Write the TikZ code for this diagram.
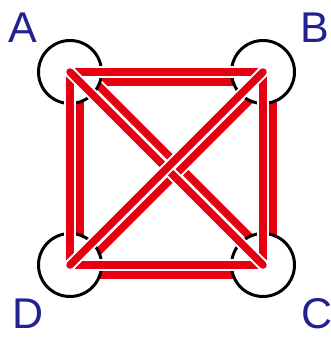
\documentclass[tikz,border=0pt]{standalone}
\usepackage{fontspec}
\setmainfont{Liberation Sans}
\definecolor{edgered}{HTML}{E60012}
\definecolor{labelblue}{HTML}{232090}
\begin{document}
\begin{tikzpicture}[x=1pt,y=-1pt,
  strand/.style={draw=edgered, line width=7.5pt, line cap=round,
    preaction={draw=white, line width=11.5pt, line cap=round}},
  vertex/.style={circle, draw=black, fill=white, line width=3pt,
    minimum size=63pt, inner sep=0pt},
  lab/.style={text=labelblue, font=\fontsize{43}{43}\selectfont,
    inner sep=0pt, anchor=base west}]
\useasboundingbox (0,0) rectangle (331,338);
% offset copies of the vertices
\coordinate (Ao) at (80,82);
\coordinate (Bo) at (273,82);
\coordinate (Co) at (273,275);
\coordinate (Do) at (80,275);
\coordinate (Aq) at (77.5,64.5);
\coordinate (Cq) at (270.5,257.5);
\coordinate (Bq) at (270.5,79.5);
\coordinate (Dq) at (77.5,272.5);
% offset strands
\draw[strand] (Ao) -- (Bo);
\draw[strand] (Bo) -- (Co);
\draw[strand] (Co) -- (Do);
\draw[strand] (Do) -- (Ao);
\draw[strand] (Aq) -- (Cq);
\draw[strand] (Bq) -- (Dq);
% vertices
\node[vertex] (A) at (70,72) {};
\node[vertex] (B) at (263,72) {};
\node[vertex] (C) at (263,265) {};
\node[vertex] (D) at (70,265) {};
% main strands
\draw[strand] (A.center) -- (B.center);
\draw[strand] (B.center) -- (C.center);
\draw[strand] (C.center) -- (D.center);
\draw[strand] (D.center) -- (A.center);
\draw[strand] (A.center) -- (C.center);
\draw[strand] (B.center) -- (D.center);
% labels
\node[lab] (la) at (8,42) {A};
\node[lab] (lb) at (300.5,42) {B};
\node[lab] (lc) at (301,328) {C};
\node[lab] (ld) at (12,328) {D};
\end{tikzpicture}
\end{document}
